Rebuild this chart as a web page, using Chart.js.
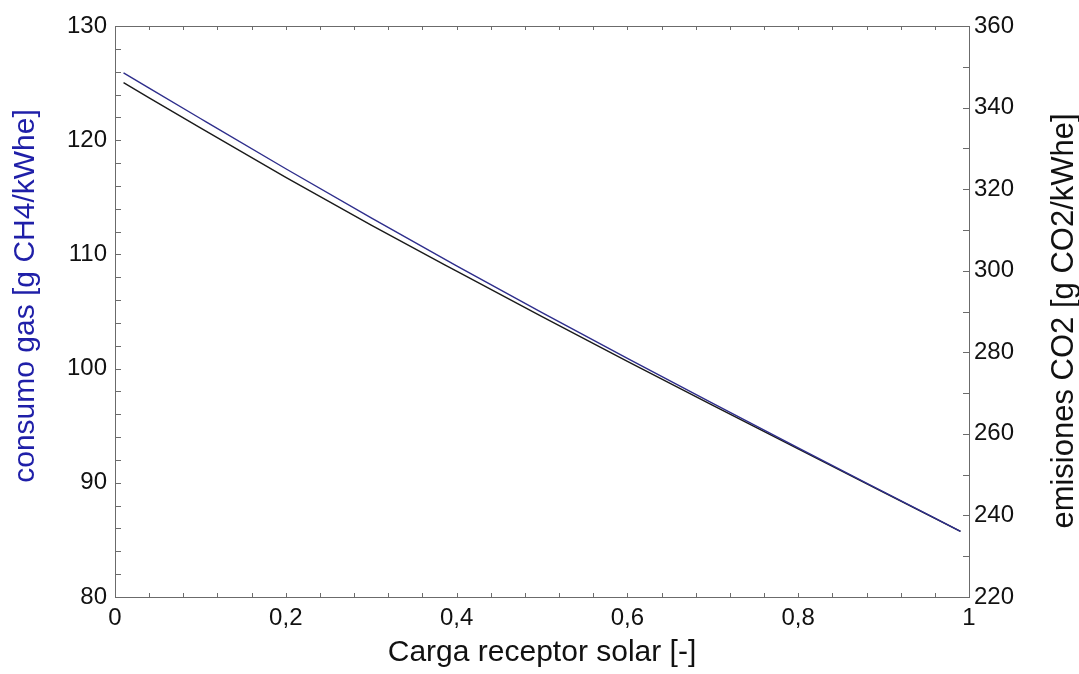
<!DOCTYPE html>
<html>
<head>
<meta charset="utf-8">
<script src="https://cdn.jsdelivr.net/npm/chart.js@4.4.1/dist/chart.umd.min.js"></script>
<style>
html,body{margin:0;padding:0;background:#fff;}
#wrap{width:1079px;height:674px;position:relative;}
</style>
</head>
<body>
<div id="wrap"><canvas id="c" width="1079" height="674"></canvas></div>
<script>
// Data
const carga = [0.01, 0.1, 0.2, 0.3, 0.4, 0.5, 0.6, 0.7, 0.8, 0.9, 0.99];
const consumoGas = [125.9, 121.9, 117.5, 113.2, 109.0, 104.9, 100.9, 96.95, 93.05, 89.2, 85.75];
const emisionesCO2 = [346.1, 335.0, 322.9, 311.2, 299.9, 288.75, 277.8, 267.0, 256.3, 245.65, 236.1];
const xTicks = [0, 0.2, 0.4, 0.6, 0.8, 1];
const leftTicks = [80, 90, 100, 110, 120, 130];
const rightTicks = [220, 240, 260, 280, 300, 320, 340, 360];

const FONT = "'Liberation Sans', Arial, sans-serif";
const frameColor = '#6b6b6b';
const TITLE_SIZE = 30;

const toPts = (xs, ys) => xs.map((x, i) => ({x: x, y: ys[i]}));

function vText(ctx, text, x, y, color, size) {
  ctx.save();
  ctx.fillStyle = color;
  ctx.font = size + 'px ' + FONT;
  ctx.textAlign = 'center';
  ctx.textBaseline = 'middle';
  ctx.translate(x, y);
  ctx.rotate(-Math.PI / 2);
  ctx.fillText(text, 0, 0);
  ctx.restore();
}

const innerTicks = {
  id: 'innerTicks',
  afterDraw(chart) {
    const ctx = chart.ctx;
    const a = chart.chartArea;
    const sx = chart.scales.x, yl = chart.scales.y, yr = chart.scales.y2;
    ctx.save();
    ctx.strokeStyle = frameColor;
    ctx.lineWidth = 1;
    ctx.strokeRect(Math.round(a.left) + 0.5, Math.round(a.top) + 0.5,
                   Math.round(a.right - a.left), Math.round(a.bottom - a.top));
    ctx.beginPath();
    for (let i = 1; i < 25; i++) {
      const px = Math.round(sx.getPixelForValue(i * 0.04)) + 0.5;
      ctx.moveTo(px, a.bottom); ctx.lineTo(px, a.bottom - 4);
      ctx.moveTo(px, a.top); ctx.lineTo(px, a.top + 4);
    }
    for (let v = 82; v < 130; v += 2) {
      const py = Math.round(yl.getPixelForValue(v)) + 0.5;
      ctx.moveTo(a.left, py); ctx.lineTo(a.left + 6, py);
    }
    for (let v = 230; v < 360; v += 10) {
      const py = Math.round(yr.getPixelForValue(v)) + 0.5;
      ctx.moveTo(a.right, py); ctx.lineTo(a.right - 6, py);
    }
    ctx.stroke();
    ctx.restore();
    // axis titles (vertical, reading bottom to top)
    vText(ctx, 'consumo gas [g CH4/kWhe]', 26, 296, '#1f1fa8', TITLE_SIZE);
    vText(ctx, 'emisiones CO2 [g CO2/kWhe]', 1064, 321, '#111', 31);
  }
};

new Chart(document.getElementById('c'), {
  type: 'line',
  data: {
    datasets: [
      {
        label: 'consumo gas',
        data: toPts(carga, consumoGas),
        yAxisID: 'y',
        borderColor: '#2e2e8c',
        borderWidth: 1.4,
        pointRadius: 0,
        cubicInterpolationMode: 'monotone',
        order: 0
      },
      {
        label: 'emisiones CO2',
        data: toPts(carga, emisionesCO2),
        yAxisID: 'y2',
        borderColor: '#1a1a1a',
        borderWidth: 1.4,
        pointRadius: 0,
        cubicInterpolationMode: 'monotone',
        order: 1
      }
    ]
  },
  options: {
    responsive: false,
    animation: false,
    devicePixelRatio: 1,
    layout: {padding: {top: 26, left: 0, right: 0, bottom: 0}},
    plugins: {legend: {display: false}, tooltip: {enabled: false}},
    scales: {
      x: {
        type: 'linear', position: 'bottom', min: 0, max: 1,
        afterFit(s) { s.height = 77; },
        afterBuildTicks(s) { s.ticks = xTicks.map(v => ({value: v})); },
        grid: {display: false, drawTicks: false},
        border: {display: false},
        ticks: {
          padding: 7, color: '#111', font: {family: FONT, size: 24},
          maxRotation: 0,
          callback: v => String(v).replace('.', ',')
        },
        title: {display: true, text: 'Carga receptor solar [-]', color: '#111',
                font: {family: FONT, size: TITLE_SIZE}, padding: {top: 0, bottom: 3}}
      },
      y: {
        type: 'linear', position: 'left', min: 80, max: 130,
        afterFit(s) { s.width = 115; },
        afterBuildTicks(s) { s.ticks = leftTicks.map(v => ({value: v})); },
        grid: {display: false, drawTicks: false},
        border: {display: false},
        ticks: {padding: 8, color: '#111', font: {family: FONT, size: 24}}
      },
      y2: {
        type: 'linear', position: 'right', min: 220, max: 360,
        afterFit(s) { s.width = 110; },
        afterBuildTicks(s) { s.ticks = rightTicks.map(v => ({value: v})); },
        grid: {display: false, drawTicks: false},
        border: {display: false},
        ticks: {padding: 5, color: '#111', font: {family: FONT, size: 24}}
      }
    }
  },
  plugins: [innerTicks]
});
</script>
</body>
</html>
